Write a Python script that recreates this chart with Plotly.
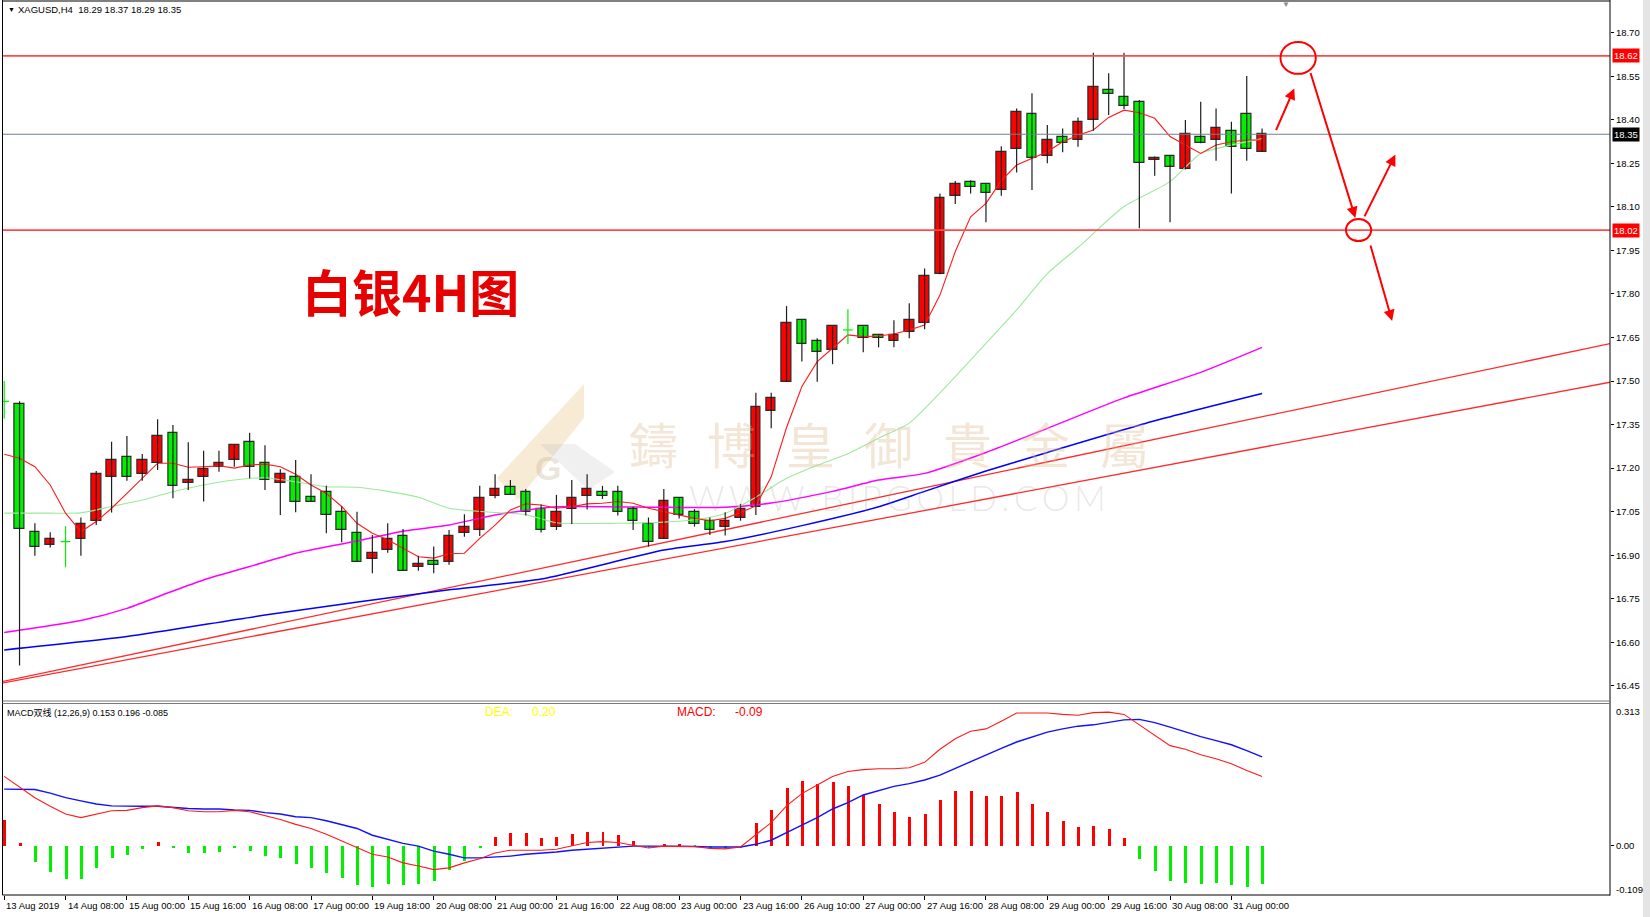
import plotly.graph_objects as go

W, H = 1650, 917

# ---------------- data ----------------
bars = list(range(83))
opens = [17.430, 17.420, 16.980, 16.936, 16.947, 16.956, 17.018, 17.169, 17.237, 17.179,
         17.217, 17.320, 17.148, 17.169, 17.205, 17.228, 17.289, 17.217, 17.148, 17.169,
         17.099, 17.117, 17.049, 16.978, 16.888, 16.918, 16.968, 16.859, 16.880, 16.876,
         16.976, 16.987, 17.105, 17.136, 17.117, 17.059, 16.999, 17.058, 17.105, 17.117,
         17.117, 17.059, 17.008, 16.956, 17.096, 17.048, 17.018, 16.999, 17.030, 17.065,
         17.398, 17.498, 17.709, 17.637, 17.607, 17.676, 17.688, 17.657, 17.637, 17.668,
         17.699, 17.868, 18.138, 18.187, 18.178, 18.158, 18.299, 18.419, 18.276, 18.339,
         18.330, 18.399, 18.502, 18.479, 18.460, 18.261, 18.276, 18.229, 18.339, 18.330,
         18.361, 18.419, 18.290]
highs = [17.500, 17.430, 17.010, 16.979, 17.000, 17.030, 17.190, 17.291, 17.311, 17.249,
         17.368, 17.349, 17.289, 17.260, 17.260, 17.279, 17.322, 17.279, 17.196, 17.228,
         17.179, 17.139, 17.068, 17.050, 16.970, 17.010, 16.990, 16.898, 16.930, 16.987,
         17.041, 17.139, 17.179, 17.159, 17.128, 17.075, 17.108, 17.159, 17.179, 17.139,
         17.139, 17.067, 17.030, 17.128, 17.096, 17.059, 17.030, 17.048, 17.077, 17.460,
         17.460, 17.758, 17.709, 17.647, 17.688, 17.747, 17.688, 17.657, 17.709, 17.768,
         17.888, 18.146, 18.189, 18.192, 18.178, 18.309, 18.439, 18.491, 18.382, 18.370,
         18.408, 18.631, 18.560, 18.631, 18.468, 18.273, 18.276, 18.399, 18.462, 18.439,
         18.393, 18.551, 18.370]
lows = [17.370, 16.520, 16.898, 16.927, 16.859, 16.898, 17.004, 17.047, 17.157, 17.157,
        17.194, 17.096, 17.125, 17.085, 17.188, 17.205, 17.165, 17.125, 17.039, 17.048,
        17.085, 16.976, 16.945, 16.878, 16.838, 16.909, 16.847, 16.847, 16.838, 16.867,
        16.964, 16.966, 17.096, 17.108, 17.037, 16.978, 16.987, 17.008, 17.058, 17.094,
        17.037, 16.987, 16.930, 16.956, 17.027, 16.999, 16.970, 16.968, 17.019, 17.039,
        17.337, 17.498, 17.567, 17.498, 17.558, 17.628, 17.599, 17.616, 17.616, 17.647,
        17.678, 17.868, 18.110, 18.146, 18.047, 18.138, 18.218, 18.158, 18.250, 18.288,
        18.307, 18.362, 18.416, 18.437, 18.026, 18.207, 18.047, 18.229, 18.319, 18.259,
        18.146, 18.259, 18.290]
closes = [17.430, 16.990, 16.930, 16.956, 16.947, 17.008, 17.179, 17.228, 17.169, 17.228,
          17.310, 17.139, 17.159, 17.197, 17.217, 17.279, 17.205, 17.159, 17.179, 17.085,
          17.085, 17.039, 16.987, 16.878, 16.909, 16.956, 16.847, 16.870, 16.868, 16.968,
          16.999, 17.096, 17.127, 17.108, 17.048, 16.987, 17.048, 17.096, 17.127, 17.105,
          17.048, 17.018, 16.947, 17.087, 17.039, 17.008, 16.987, 17.018, 17.059, 17.410,
          17.440, 17.699, 17.628, 17.599, 17.688, 17.676, 17.647, 17.647, 17.657, 17.709,
          17.861, 18.129, 18.178, 18.167, 18.146, 18.288, 18.428, 18.267, 18.330, 18.319,
          18.392, 18.512, 18.489, 18.448, 18.250, 18.267, 18.238, 18.350, 18.319, 18.370,
          18.307, 18.298, 18.350]

ma_red = [17.248, 17.234, 17.205, 17.142, 17.045, 16.981, 17.016, 17.062, 17.113, 17.165,
          17.217, 17.217, 17.203, 17.205, 17.208, 17.200, 17.211, 17.214, 17.205, 17.179,
          17.142, 17.113, 17.068, 17.010, 16.976, 16.953, 16.924, 16.895, 16.890, 16.905,
          16.907, 16.958, 17.004, 17.056, 17.077, 17.073, 17.062, 17.067, 17.077, 17.079,
          17.085, 17.079, 17.062, 17.050, 17.039, 17.027, 17.019, 17.027, 17.047, 17.070,
          17.170, 17.340, 17.481, 17.567, 17.613, 17.659, 17.653, 17.655, 17.662, 17.676,
          17.693, 17.796, 17.946, 18.066, 18.112, 18.190, 18.244, 18.267, 18.290, 18.324,
          18.347, 18.365, 18.408, 18.433, 18.424, 18.405, 18.342, 18.313, 18.284, 18.313,
          18.324, 18.330, 18.330]

ma_green_bars = [0, 3, 5, 7, 9, 11, 13, 15, 17, 19, 21, 23, 25, 27, 29, 32, 34, 36, 40,
                 43, 45, 47, 49, 51, 53, 55, 57, 59, 62, 64, 66, 68, 70, 73, 76, 78, 80, 82]
ma_green = [17.045, 17.045, 17.046, 17.068, 17.090, 17.119, 17.142, 17.159, 17.167, 17.153,
            17.136, 17.134, 17.120, 17.100, 17.062, 17.047, 17.040, 17.012, 17.010, 17.014,
            17.022, 17.044, 17.100, 17.165, 17.210, 17.250, 17.303, 17.355, 17.515, 17.630,
            17.745, 17.870, 17.960, 18.101, 18.187, 18.284, 18.313, 18.335]

ma_magenta_bars = [0, 5, 8, 11, 13, 16, 19, 23, 26, 29, 32, 36, 43, 47, 50, 54, 57, 60,
                   64, 68, 73, 78, 82]
ma_magenta = [16.634, 16.675, 16.717, 16.777, 16.815, 16.861, 16.907, 16.949, 16.983,
              17.004, 17.039, 17.067, 17.065, 17.065, 17.080, 17.120, 17.159, 17.182,
              17.254, 17.337, 17.442, 17.530, 17.616]

ma_blue_bars = [0, 8, 17, 29, 35, 43, 47, 52, 57, 60, 64, 68, 75, 82]
ma_blue = [16.574, 16.620, 16.694, 16.781, 16.818, 16.918, 16.947, 17.002, 17.067, 17.120,
           17.190, 17.254, 17.363, 17.457]

trend_a_x = [-0.2, 104.7]
trend_a_y = [16.464, 17.629]
trend_b_x = [-0.2, 104.7]
trend_b_y = [16.459, 17.496]

level_lines = [18.62, 18.02]
current_price = 18.35

macd_hist = [0.057, 0.005, -0.036, -0.058, -0.073, -0.073, -0.049, -0.027, -0.020, -0.008,
             0.008, -0.006, -0.016, -0.016, -0.013, -0.006, -0.012, -0.022, -0.027, -0.040,
             -0.049, -0.060, -0.071, -0.087, -0.092, -0.084, -0.087, -0.084, -0.077, -0.054,
             -0.034, -0.006, 0.019, 0.029, 0.027, 0.016, 0.019, 0.025, 0.031, 0.031,
             0.023, 0.010, -0.005, 0.002, 0.003, -0.001, -0.008, -0.008, -0.005, 0.049,
             0.079, 0.127, 0.143, 0.137, 0.140, 0.132, 0.112, 0.092, 0.075, 0.064,
             0.070, 0.101, 0.121, 0.121, 0.110, 0.110, 0.119, 0.092, 0.075, 0.055,
             0.042, 0.044, 0.036, 0.018, -0.029, -0.055, -0.079, -0.082, -0.085, -0.082,
             -0.087, -0.092, -0.085]
macd_dif = [0.153, 0.129, 0.106, 0.087, 0.070, 0.062, 0.070, 0.077, 0.078, 0.084,
            0.088, 0.084, 0.077, 0.075, 0.075, 0.078, 0.075, 0.066, 0.058, 0.047,
            0.038, 0.025, 0.010, -0.005, -0.019, -0.025, -0.038, -0.045, -0.053, -0.049,
            -0.038, -0.029, -0.016, -0.010, -0.010, -0.010, -0.008, -0.001, 0.007, 0.009,
            0.007, 0.001, -0.005, -0.001, -0.001, -0.002, -0.006, -0.007, -0.003, 0.025,
            0.051, 0.088, 0.115, 0.134, 0.153, 0.164, 0.168, 0.170, 0.170, 0.172,
            0.184, 0.213, 0.236, 0.253, 0.258, 0.275, 0.293, 0.293, 0.293, 0.290,
            0.288, 0.294, 0.295, 0.290, 0.267, 0.245, 0.221, 0.213, 0.201, 0.192,
            0.181, 0.166, 0.153]
macd_dea = [0.125, 0.125, 0.124, 0.116, 0.106, 0.099, 0.092, 0.088, 0.087, 0.087,
            0.087, 0.084, 0.082, 0.081, 0.081, 0.079, 0.078, 0.073, 0.070, 0.064,
            0.062, 0.055, 0.047, 0.038, 0.023, 0.014, 0.005, -0.001, -0.012, -0.019,
            -0.027, -0.027, -0.025, -0.023, -0.019, -0.017, -0.014, -0.010, -0.008, -0.006,
            -0.004, -0.001, -0.001, -0.001, -0.002, -0.002, -0.003, -0.003, -0.003, 0.003,
            0.012, 0.029, 0.045, 0.062, 0.081, 0.095, 0.112, 0.121, 0.131, 0.137,
            0.145, 0.156, 0.171, 0.186, 0.201, 0.215, 0.229, 0.240, 0.251, 0.258,
            0.264, 0.267, 0.273, 0.278, 0.279, 0.272, 0.262, 0.251, 0.241, 0.232,
            0.223, 0.210, 0.196]

price_ticks = [16.45, 16.60, 16.75, 16.90, 17.05, 17.20, 17.35, 17.50, 17.65, 17.80,
               17.95, 18.10, 18.25, 18.40, 18.55, 18.70]
time_label_bars = [0, 4, 8, 12, 16, 20, 24, 28, 32, 36, 40, 44, 48, 52, 56, 60, 64, 68,
                   72, 76, 80]
time_labels = ["13 Aug 2019", "14 Aug 08:00", "15 Aug 00:00", "15 Aug 16:00",
               "16 Aug 08:00", "17 Aug 00:00", "19 Aug 18:00", "20 Aug 08:00",
               "21 Aug 00:00", "21 Aug 16:00", "22 Aug 08:00", "23 Aug 00:00",
               "23 Aug 16:00", "26 Aug 10:00", "27 Aug 00:00", "27 Aug 16:00",
               "28 Aug 08:00", "29 Aug 00:00", "29 Aug 16:00", "30 Aug 08:00",
               "31 Aug 00:00"]

# hand-drawn marks (bar index, price)
arrows = [((82.87, 18.359), (84.10, 18.508)),
          ((85.13, 18.566), (88.08, 18.062)),
          ((88.63, 18.062), (90.69, 18.280)),
          ((89.04, 17.972), (90.48, 17.707))]
circles = [((83.2, 85.5), (18.558, 18.668)),
           ((87.47, 89.11), (17.982, 18.058))]

# ---------------- geometry helpers ----------------
PLOT_L, PLOT_R = 2.5, 1610
MAIN_T, MAIN_B = 1, 701
SUB_T, SUB_B = 704, 895
BAR0_PX, BAR_STEP = 4.2, 15.34
x_range = [(PLOT_L - BAR0_PX) / BAR_STEP, (PLOT_R - BAR0_PX) / BAR_STEP]
y_range = [16.398, 18.809]
macd_range = [-0.109, 0.313]


def X(px):
    return px / W


def Y(py):
    return 1 - py / H


AX_FONT = "Liberation Sans, Arial, Noto Sans CJK SC, sans-serif"
RED = "#FF0000"
LIME = "#00F000"

fig = go.Figure()

# trend lines
fig.add_trace(go.Scatter(x=trend_a_x, y=trend_a_y, mode="lines",
                         line=dict(color="#FF2A2A", width=1.3), hoverinfo="skip"))
fig.add_trace(go.Scatter(x=trend_b_x, y=trend_b_y, mode="lines",
                         line=dict(color="#FF2A2A", width=1.3), hoverinfo="skip"))

# moving averages
fig.add_trace(go.Scatter(x=ma_magenta_bars, y=ma_magenta, mode="lines",
                         line=dict(color="#FF00FF", width=1.5, shape="spline", smoothing=0.6),
                         hoverinfo="skip"))
fig.add_trace(go.Scatter(x=ma_blue_bars, y=ma_blue, mode="lines",
                         line=dict(color="#0000FF", width=1.5, shape="spline", smoothing=0.6),
                         hoverinfo="skip"))
fig.add_trace(go.Scatter(x=ma_green_bars, y=ma_green, mode="lines",
                         line=dict(color="#9BEA9B", width=1.1, shape="spline", smoothing=0.6),
                         hoverinfo="skip"))
fig.add_trace(go.Scatter(x=bars, y=ma_red, mode="lines",
                         line=dict(color="#FF1A1A", width=1.1), hoverinfo="skip"))

# candles
wick_x, wick_y = [], []
doji_x, doji_y = [], []
body_x, body_base, body_len, body_col = [], [], [], []
HALF = 0.31
for i, o, h, l, c in zip(bars, opens, highs, lows, closes):
    if abs(c - o) < 1e-9:
        doji_x += [i, i, None, i - HALF, i + HALF, None]
        doji_y += [l, h, None, c, c, None]
    else:
        wick_x += [i, i, None]
        wick_y += [l, h, None]
        body_x.append(i)
        body_base.append(min(o, c))
        body_len.append(abs(c - o))
        body_col.append(RED if c > o else LIME)

fig.add_trace(go.Scatter(x=wick_x, y=wick_y, mode="lines",
                         line=dict(color="#1E1E1E", width=1.2), hoverinfo="skip"))
fig.add_trace(go.Bar(x=body_x, y=body_len, base=body_base, width=2 * HALF,
                     marker=dict(color=body_col, line=dict(color="#2A2A2A", width=1.2)),
                     hoverinfo="skip"))
fig.add_trace(go.Scatter(x=doji_x, y=doji_y, mode="lines",
                         line=dict(color=LIME, width=1.2), hoverinfo="skip"))

# MACD panel
fig.add_trace(go.Bar(x=bars, y=macd_hist, width=0.19, xaxis="x2", yaxis="y2",
                     marker=dict(color=[RED if v >= 0 else LIME for v in macd_hist],
                                 line=dict(width=0)),
                     hoverinfo="skip"))
fig.add_trace(go.Scatter(x=bars, y=macd_dea, mode="lines", xaxis="x2", yaxis="y2",
                         line=dict(color="#1010FF", width=1.4), hoverinfo="skip"))
fig.add_trace(go.Scatter(x=bars, y=macd_dif, mode="lines", xaxis="x2", yaxis="y2",
                         line=dict(color="#FF1A1A", width=1.1), hoverinfo="skip"))

shapes = []
# watermark logo (background)
shapes.append(dict(type="path", xref="paper", yref="paper", layer="below",
                   path="M {} {} L {} {} L {} {} L {} {} Z".format(
                       X(584), Y(384), X(584), Y(418), X(518), Y(500), X(497), Y(478)),
                   fillcolor="rgba(230,190,120,0.30)", line=dict(width=0)))
shapes.append(dict(type="path", xref="paper", yref="paper", layer="below",
                   path="M {} {} L {} {} L {} {} L {} {} Z".format(
                       X(540), Y(444), X(575), Y(444), X(615), Y(472), X(588), Y(490)),
                   fillcolor="rgba(170,170,170,0.18)", line=dict(width=0)))

# horizontal levels
for lv in level_lines:
    shapes.append(dict(type="line", xref="x domain", yref="y", x0=0, x1=1, y0=lv, y1=lv,
                       line=dict(color="#FF4B4B", width=1.6)))
shapes.append(dict(type="line", xref="x domain", yref="y", x0=0, x1=1,
                   y0=current_price, y1=current_price,
                   line=dict(color="#708090", width=1)))

# hand drawn circles
for (cx0, cx1), (cy0, cy1) in circles:
    shapes.append(dict(type="circle", xref="x", yref="y", x0=cx0, x1=cx1, y0=cy0, y1=cy1,
                       line=dict(color="#FF0000", width=2)))


# frames
def hline(y, x0, x1, color="#000000", width=1):
    return dict(type="line", xref="paper", yref="paper", x0=X(x0), x1=X(x1),
                y0=Y(y), y1=Y(y), line=dict(color=color, width=width))


def vline(x, y0, y1, color="#000000", width=1):
    return dict(type="line", xref="paper", yref="paper", x0=X(x), x1=X(x),
                y0=Y(y0), y1=Y(y1), line=dict(color=color, width=width))


shapes += [
    hline(1, PLOT_L, PLOT_R),
    vline(PLOT_L, 0, SUB_B),
    vline(PLOT_R, 0, SUB_B + 0.5),
    hline(MAIN_B, PLOT_L, PLOT_R, "#7A7A7A", 1.2),
    hline(SUB_T - 0.5, PLOT_L, PLOT_R, "#7A7A7A", 1.2),
    hline(SUB_B, PLOT_L, PLOT_R),
    dict(type="rect", xref="paper", yref="paper", x0=X(1643), x1=1, y0=0, y1=1,
         fillcolor="#E4E4E4", line=dict(width=0), layer="below"),
]

ann = []
# watermark text
wm_chars = ["鑄", "博", "皇", "御", "貴", "金", "屬"]
for k, ch in enumerate(wm_chars):
    ann.append(dict(xref="paper", yref="paper", x=X(653 + 78.5 * k), y=Y(442),
                    text=ch, showarrow=False, xanchor="center", yanchor="middle",
                    font=dict(family="Noto Sans CJK TC", size=49,
                              color="rgba(225,185,140,0.36)")))
ann.append(dict(xref="paper", yref="paper", x=X(898), y=Y(497),
                text="\u2009".join("WWW.BIPGOLD.COM"), showarrow=False,
                xanchor="center", yanchor="middle",
                font=dict(family="Lato", size=35, weight=300,
                          color="rgba(150,150,150,0.22)")))
ann.append(dict(xref="paper", yref="paper", x=X(548), y=Y(468), text="<b>G</b>",
                showarrow=False, xanchor="center", yanchor="middle",
                font=dict(family="Liberation Sans", size=34, color="rgba(190,165,130,0.30)")))

# title text
ann.append(dict(xref="paper", yref="paper", x=X(410), y=Y(290), text="白银4H图",
                showarrow=False, xanchor="center", yanchor="middle",
                font=dict(family="Noto Sans CJK SC", size=50, weight="bold", color="#E60000")))

# header
ann.append(dict(xref="paper", yref="paper", x=X(6), y=Y(10), text="▼",
                showarrow=False, xanchor="left", yanchor="middle",
                font=dict(family=AX_FONT, size=7, color="#000000")))
ann.append(dict(xref="paper", yref="paper", x=X(16), y=Y(10),
                text="XAGUSD,H4\u00a0\u00a018.29 18.37 18.29 18.35",
                showarrow=False, xanchor="left", yanchor="middle",
                font=dict(family=AX_FONT, size=9.5, color="#000000")))
ann.append(dict(xref="paper", yref="paper", x=X(1286), y=Y(4), text="▼",
                showarrow=False, xanchor="center", yanchor="middle",
                font=dict(family=AX_FONT, size=8, color="#8A8A8A")))

# MACD labels
ann.append(dict(xref="paper", yref="paper", x=X(5), y=Y(712),
                text="MACD双线 (12,26,9) 0.153 0.196 -0.085",
                showarrow=False, xanchor="left", yanchor="middle",
                font=dict(family=AX_FONT, size=9, color="#000000")))
for txt, px_x, col in [("DEA:", 483, "#FFFF00"), ("0.20", 530, "#FFFF00"),
                       ("MACD:", 675, "#FF0000"), ("-0.09", 733, "#FF0000")]:
    ann.append(dict(xref="paper", yref="paper", x=X(px_x), y=Y(712), text=txt,
                    showarrow=False, xanchor="left", yanchor="middle",
                    font=dict(family=AX_FONT, size=12, color=col)))
for txt, py in [("0.313", 711), ("-0.109", 889)]:
    ann.append(dict(xref="paper", yref="paper", x=X(1614), y=Y(py), text=txt,
                    showarrow=False, xanchor="left", yanchor="middle",
                    font=dict(family=AX_FONT, size=9.5, color="#000000")))

# price boxes on the axis
for lv, bg in [(level_lines[0], "#FF0000"), (current_price, "#000000"),
               (level_lines[1], "#FF0000")]:
    ann.append(dict(xref="paper", yref="y", x=X(1612), y=lv, text="%.2f" % lv,
                    showarrow=False, xanchor="left", yanchor="middle", bgcolor=bg,
                    borderpad=1, font=dict(family=AX_FONT, size=9.5, color="#FFFFFF")))

# time labels
for b, lab in zip(time_label_bars, time_labels):
    ann.append(dict(xref="x2", yref="paper", x=b, y=Y(905), text=lab,
                    showarrow=False, xanchor="left", yanchor="middle", xshift=0,
                    font=dict(family=AX_FONT, size=9.5, color="#000000")))

# arrows
for (tx, ty), (hx, hy) in arrows:
    ann.append(dict(xref="x", yref="y", axref="x", ayref="y", x=hx, y=hy, ax=tx, ay=ty,
                    text="", showarrow=True, arrowhead=2, arrowsize=1.1, arrowwidth=2,
                    arrowcolor="#FF0000", standoff=0, startstandoff=0))

fig.update_layout(
    width=W, height=H, autosize=False,
    margin=dict(l=0, r=0, t=0, b=0),
    paper_bgcolor="#FFFFFF", plot_bgcolor="#FFFFFF",
    showlegend=False, hovermode=False, barmode="overlay", bargap=0,
    shapes=shapes, annotations=ann,
    xaxis=dict(domain=[X(PLOT_L), X(PLOT_R)], range=x_range, anchor="y",
               showgrid=False, zeroline=False, showticklabels=False, ticks="",
               showline=False, fixedrange=True),
    xaxis2=dict(domain=[X(PLOT_L), X(PLOT_R)], range=x_range, anchor="y2", matches="x",
                showgrid=False, zeroline=False, showticklabels=False, ticks="outside",
                tickvals=time_label_bars, ticklen=4, tickcolor="#000000", tickwidth=1,
                showline=False, fixedrange=True),
    yaxis=dict(domain=[Y(MAIN_B), Y(MAIN_T)], range=y_range, anchor="x", side="right",
               tickvals=price_ticks, ticktext=["%.2f" % v for v in price_ticks],
               ticks="outside", ticklen=3, tickcolor="#000000",
               tickfont=dict(family=AX_FONT, size=9.5, color="#000000"),
               showgrid=False, zeroline=False, showline=False, fixedrange=True),
    yaxis2=dict(domain=[Y(SUB_B), Y(SUB_T)], range=macd_range, anchor="x2", side="right",
                tickvals=[0], ticktext=["0.00"], ticks="outside", ticklen=3,
                tickcolor="#000000",
                tickfont=dict(family=AX_FONT, size=9.5, color="#000000"),
                showgrid=False, zeroline=False, showline=False, fixedrange=True),
)

fig.write_html("out.html", config={"displayModeBar": False})
